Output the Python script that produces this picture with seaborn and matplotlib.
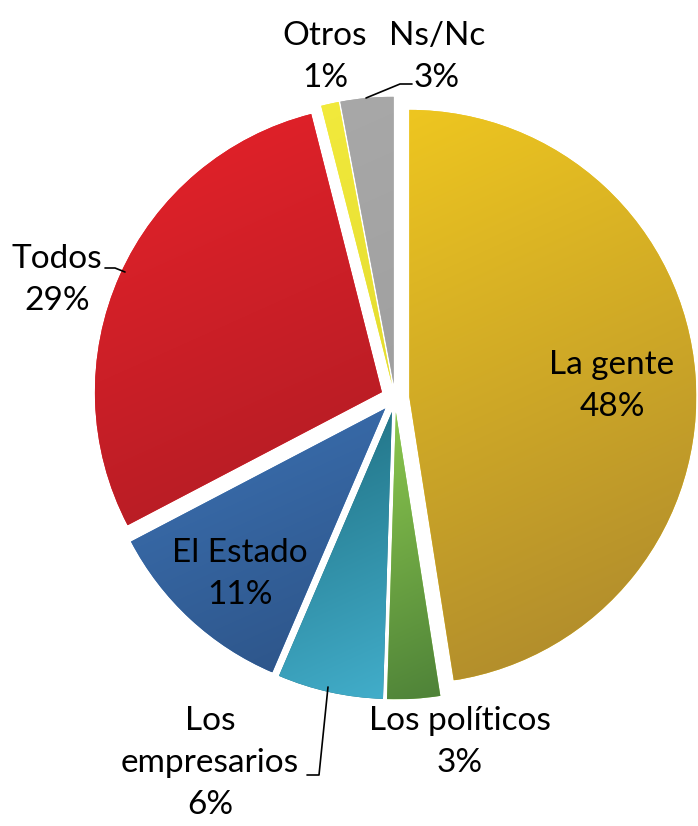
import numpy as np
import matplotlib
matplotlib.use("Agg")
import matplotlib.pyplot as plt
import matplotlib.colors as mcolors
import seaborn as sns

# ---- data ----
categories = ["La gente", "Los políticos", "Los empresarios", "El Estado", "Todos", "Otros", "Ns/Nc"]
values = [48, 3, 6, 11, 29, 1, 3]
label_text = ["La gente\n48%", "Los políticos\n3%", "Los\nempresarios\n6%", "El Estado\n11%",
              "Todos\n29%", "Otros\n1%", "Ns/Nc\n3%"]
light_colors = ["#EEC620", "#8CC84E", "#1F6E80", "#3C72B4", "#E8222A", "#F2EA3C", "#A8A8A8"]
dark_colors = ["#AA862E", "#4E8238", "#42AECB", "#2C5285", "#AE1C24", "#E4DC30", "#A0A0A0"]

sns.set_theme(style="white")
plt.rcParams['font.family'] = ['Lato', 'DejaVu Sans']

W, H = 698, 826
CX, CY, R = 395, 398, 287

def P(x, y):
    return ((x - CX) / R, (CY - y) / R)

fig = plt.figure(figsize=(W / 100, H / 100), dpi=100)
ax = fig.add_axes([0, 0, 1, 1])

wedges, _ = ax.pie(values, startangle=90, counterclock=False, explode=[0.05] * len(values),
                   radius=1.0, colors=light_colors, wedgeprops=dict(linewidth=0))

# gradient fill per wedge
d = np.array([0.45, -1.0])
d = d / np.linalg.norm(d)
for w, c1, c2 in zip(wedges, light_colors, dark_colors):
    ext = w.get_path().get_extents()
    x0, y0, x1, y1 = ext.x0, ext.y0, ext.x1, ext.y1
    n = 200
    xs = np.linspace(x0, x1, n)
    ys = np.linspace(y0, y1, n)
    X, Y = np.meshgrid(xs, ys)
    proj = X * d[0] + Y * d[1]
    t = (proj - proj.min()) / max(proj.max() - proj.min(), 1e-9)
    a = np.array(mcolors.to_rgb(c1))
    b = np.array(mcolors.to_rgb(c2))
    img = a[None, None, :] * (1 - t[..., None]) + b[None, None, :] * t[..., None]
    im = ax.imshow(img, extent=[x0, x1, y0, y1], origin='lower', interpolation='bilinear', zorder=2)
    im.set_clip_path(w)

# labels
label_pos = [(612, 386), (460, 742), (210, 763), (240, 574), (57, 280), (325, 57), (437, 57)]
for txt, (x, y) in zip(label_text, label_pos):
    ax.text(*P(x, y), txt, ha='center', va='center', fontsize=24, color='black',
            linespacing=1.5, zorder=5)

# leader lines
leaders = [
    [(412, 84), (400, 84), (366, 98)],
    [(105, 268), (115, 268), (125, 272)],
    [(307, 775), (319, 775), (328, 687)],
]
for pts in leaders:
    xy = np.array([P(x, y) for x, y in pts])
    ax.plot(xy[:, 0], xy[:, 1], color='black', lw=1.2, zorder=4)

ax.set_xlim(-CX / R, (W - CX) / R)
ax.set_ylim(-(H - CY) / R, CY / R)
ax.set_aspect('equal', adjustable='box')
ax.axis('off')

fig.savefig("out.png", dpi=100, facecolor='white')
